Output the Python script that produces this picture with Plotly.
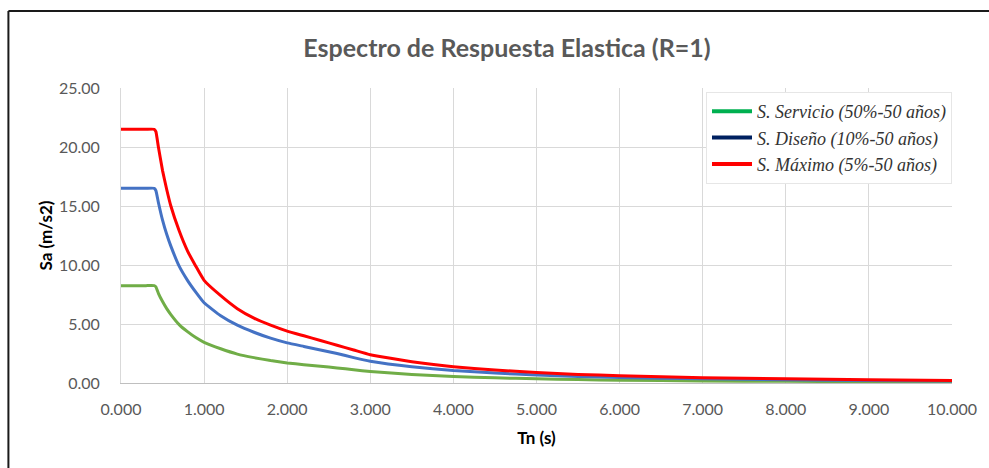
import plotly.graph_objects as go

# Data
periods = [0.0, 0.1, 0.2, 0.3, 0.40, 0.42, 0.45, 0.5, 0.55, 0.6, 0.7, 0.8, 0.9, 1.0, 1.2, 1.4, 1.6, 1.8,
           2.0, 2.2, 2.4, 2.6, 2.8, 3.0, 3.5, 4.0, 4.5, 5.0, 5.5, 6.0, 7.0, 8.0, 9.0, 10.0]
sa_servicio = [8.25, 8.25, 8.25, 8.25, 8.25, 8.15, 7.6, 6.9, 6.3, 5.8, 4.95, 4.35, 3.85, 3.45, 2.9, 2.45, 2.15, 1.9,
               1.7, 1.55, 1.42, 1.28, 1.12, 0.98, 0.72, 0.55, 0.44, 0.35, 0.29, 0.24, 0.18, 0.14, 0.11, 0.09]
sa_diseno = [16.5, 16.5, 16.5, 16.5, 16.5, 16.3, 15.3, 13.8, 12.6, 11.6, 9.9, 8.7, 7.7, 6.8, 5.7, 4.9, 4.3, 3.8,
             3.4, 3.1, 2.8, 2.5, 2.15, 1.85, 1.38, 1.06, 0.84, 0.68, 0.56, 0.47, 0.35, 0.27, 0.21, 0.17]
sa_maximo = [21.5, 21.5, 21.5, 21.5, 21.5, 21.3, 20.0, 18.0, 16.4, 15.0, 12.9, 11.2, 9.9, 8.7, 7.4, 6.3, 5.5, 4.9,
             4.4, 4.0, 3.6, 3.2, 2.8, 2.4, 1.8, 1.38, 1.1, 0.88, 0.73, 0.62, 0.45, 0.35, 0.27, 0.22]

series_names = ["S. Servicio (50%-50 años)", "S. Diseño (10%-50 años)", "S. Máximo (5%-50 años)"]
line_colors = ["#70AD47", "#4472C4", "#FF0000"]
legend_colors = ["#00B050", "#002060", "#FF0000"]
x_ticks = [0, 1, 2, 3, 4, 5, 6, 7, 8, 9, 10]
y_ticks = [0, 5, 10, 15, 20, 25]

fig = go.Figure()
for vals, col in zip([sa_servicio, sa_diseno, sa_maximo], line_colors):
    fig.add_trace(go.Scatter(x=periods, y=vals, mode="lines", showlegend=False,
                             line=dict(color=col, width=3, shape="spline", smoothing=0.4),
                             hoverinfo="skip"))
for name, col in zip(series_names, legend_colors):
    fig.add_trace(go.Scatter(x=[None], y=[None], mode="lines", name=name,
                             line=dict(color=col, width=4)))

W, H = 989, 468
L, R, T, B = 121, 34, 88, 85
pw, ph = W - L - R, H - T - B

def px(x):
    return (x - L) / pw

def py(y):
    return (H - B - y) / ph

fig.update_layout(
    width=W, height=H,
    margin=dict(l=L, r=R, t=T, b=B),
    paper_bgcolor="white", plot_bgcolor="white",
    title=dict(text="<b>Espectro de Respuesta Elastica (R=1)</b>", x=507 / W, xref="container",
               xanchor="center", y=1 - 48 / H, yanchor="middle",
               font=dict(family="Lato", size=25, color="#595959")),
    legend=dict(x=1, y=py(92), xanchor="right", yanchor="top", bgcolor="white",
                bordercolor="#E6E6E6", borderwidth=1, tracegroupgap=0, itemwidth=40,
                font=dict(family="Liberation Serif", size=18, color="#333333", style="italic")),
    xaxis=dict(range=[0, 10], tickvals=x_ticks, tickformat=".3f", showgrid=True,
               gridcolor="#D9D9D9", gridwidth=1, showline=True, linecolor="#BFBFBF", linewidth=1,
               zeroline=False, ticks="", ticklabelstandoff=12,
               tickfont=dict(family="Lato", size=16, color="#595959"),
               title=dict(text="<b>Tn (s)</b>", standoff=14,
                          font=dict(family="Lato", size=17, color="#000000"))),
    yaxis=dict(range=[0, 25], tickvals=y_ticks, tickformat=".2f", showgrid=True,
               gridcolor="#D9D9D9", gridwidth=1, showline=True, linecolor="#D9D9D9", linewidth=1,
               zeroline=False, ticks="", ticklabelstandoff=17,
               tickfont=dict(family="Lato", size=16, color="#595959"),
               title=dict(text="<b>Sa (m/s2)</b>", standoff=1,
                          font=dict(family="Lato", size=17, color="#000000"))),
    shapes=[
        dict(type="line", xref="paper", yref="paper", x0=px(8), x1=px(995), y0=py(11), y1=py(11),
             line=dict(color="#1a1a1a", width=2)),
        dict(type="line", xref="paper", yref="paper", x0=px(8), x1=px(8), y0=py(11), y1=py(475),
             line=dict(color="#1a1a1a", width=2)),
    ],
)

fig.write_html("out.html")
